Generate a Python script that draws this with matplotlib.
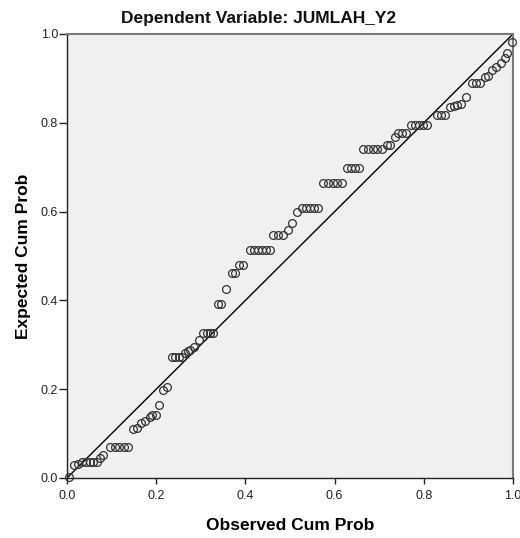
import matplotlib
matplotlib.use("Agg")
import matplotlib.pyplot as plt
import numpy as np

plt.rcParams['font.family'] = ['Liberation Sans', 'DejaVu Sans']

title = "Dependent Variable: JUMLAH_Y2"
x_label = "Observed Cum Prob"
y_label = "Expected Cum Prob"
tick_values = [0.0, 0.2, 0.4, 0.6, 0.8, 1.0]
tick_labels = ["0.0", "0.2", "0.4", "0.6", "0.8", "1.0"]

observed = [0.004, 0.016, 0.025, 0.034, 0.043, 0.052, 0.059, 0.068, 0.074, 0.081,
            0.097, 0.107, 0.117, 0.127, 0.137,
            0.149, 0.158, 0.167, 0.175, 0.185, 0.190, 0.199, 0.206, 0.216, 0.225,
            0.235, 0.242, 0.250, 0.257, 0.265, 0.272, 0.276, 0.285, 0.297,
            0.306, 0.313, 0.320, 0.327, 0.339, 0.345, 0.357, 0.369, 0.377, 0.386, 0.395,
            0.410, 0.419, 0.428, 0.437, 0.446, 0.455,
            0.463, 0.474, 0.485, 0.496, 0.505, 0.515,
            0.526, 0.536, 0.545, 0.554, 0.563,
            0.575, 0.586, 0.596, 0.606, 0.616,
            0.627, 0.636, 0.646, 0.655,
            0.664, 0.675, 0.685, 0.694, 0.706,
            0.717, 0.724, 0.735, 0.743, 0.752, 0.761,
            0.772, 0.781, 0.790, 0.799, 0.808,
            0.829, 0.838, 0.848, 0.859, 0.868, 0.875, 0.883, 0.895,
            0.907, 0.917, 0.926, 0.937, 0.945, 0.954, 0.963, 0.973, 0.982, 0.986, 0.997]

expected = [0.003, 0.029, 0.032, 0.035, 0.035, 0.035, 0.035, 0.035, 0.044, 0.052,
            0.070, 0.070, 0.070, 0.070, 0.070,
            0.110, 0.113, 0.125, 0.128, 0.138, 0.143, 0.143, 0.164, 0.198, 0.206,
            0.273, 0.273, 0.273, 0.273, 0.281, 0.285, 0.288, 0.296, 0.311,
            0.327, 0.327, 0.327, 0.327, 0.393, 0.393, 0.425, 0.461, 0.461, 0.480, 0.480,
            0.514, 0.514, 0.514, 0.514, 0.514, 0.514,
            0.547, 0.547, 0.547, 0.559, 0.575, 0.600,
            0.607, 0.607, 0.607, 0.607, 0.607,
            0.665, 0.665, 0.665, 0.665, 0.665,
            0.698, 0.698, 0.698, 0.698,
            0.742, 0.742, 0.742, 0.742, 0.742,
            0.750, 0.750, 0.769, 0.776, 0.776, 0.776,
            0.795, 0.795, 0.795, 0.795, 0.795,
            0.818, 0.818, 0.818, 0.835, 0.838, 0.840, 0.842, 0.859,
            0.889, 0.889, 0.889, 0.904, 0.905, 0.919, 0.926, 0.934, 0.945, 0.957, 0.983]

fig = plt.figure(figsize=(5.2, 5.38), dpi=100)
fig.patch.set_facecolor('white')
ax = fig.add_axes([67/520, 60/538, 446/520, 444/538])
ax.set_facecolor('#F0F0F0')

ax.plot([0, 1], [0, 1], color='black', linewidth=1.0, zorder=2)
ax.plot(observed, expected, linestyle='none', marker='o', markersize=5.6,
        markerfacecolor='none', markeredgecolor='#333333', markeredgewidth=0.9,
        zorder=3, clip_on=False)

ax.set_xlim(0, 1)
ax.set_ylim(0, 1)
ax.set_xticks(tick_values)
ax.set_xticklabels(tick_labels)
ax.set_yticks(tick_values)
ax.set_yticklabels(tick_labels)
ax.tick_params(axis='x', direction='out', length=4.5, width=1, labelsize=9,
               colors='#222222', pad=4)
ax.tick_params(axis='y', direction='out', length=5.5, width=1, labelsize=9,
               colors='#222222', pad=1)

for side in ['left', 'bottom']:
    ax.spines[side].set_color('#222222')
    ax.spines[side].set_linewidth(1.0)
for side in ['top', 'right']:
    ax.spines[side].set_color('#7a7a7a')
    ax.spines[side].set_linewidth(1.5)

fig.text(259/520, 1 - 18/538, title, ha='center', va='center', fontsize=12.5,
         fontweight='bold', color='#111111')
ax.set_xlabel(x_label, fontsize=12.5, fontweight='bold', labelpad=12)
ax.set_ylabel(y_label, fontsize=12.5, fontweight='bold', labelpad=7)

fig.savefig('out.png', dpi=100, facecolor='white')
